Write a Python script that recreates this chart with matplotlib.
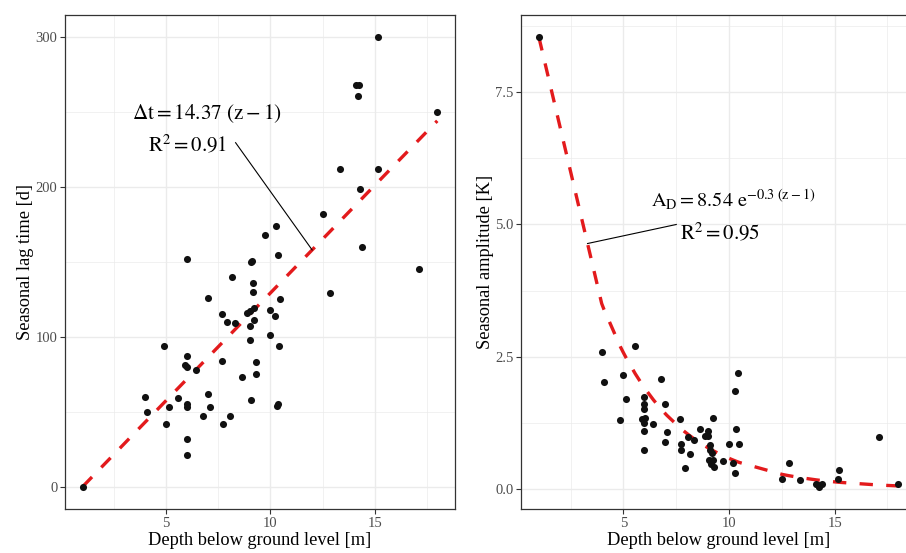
import numpy as np
import matplotlib
matplotlib.use("Agg")
import matplotlib.pyplot as plt
from matplotlib.ticker import MultipleLocator, FixedLocator

plt.rcParams['font.family'] = ['Liberation Serif', 'DejaVu Serif']
plt.rcParams['mathtext.fontset'] = 'stix'

# seasonal lag time vs depth
lag_depth = [1.0, 4.0, 4.09, 4.9, 5.0, 5.14, 5.56, 5.92, 6.0, 6.0, 6.0, 6.0, 6.0, 6.0,
             6.02, 6.43, 6.75, 7.0, 7.0, 7.09, 7.66, 7.7, 7.74, 7.9, 8.07, 8.17, 8.3,
             8.63, 8.86, 9.0, 9.0, 9.0, 9.05, 9.06, 9.12, 9.16, 9.16, 9.2, 9.2, 9.29,
             9.33, 9.75, 10.0, 10.0, 10.2, 10.27, 10.3, 10.34, 10.35, 10.4, 10.48,
             12.5, 12.85, 13.35, 14.1, 14.19, 14.25, 14.29, 14.4, 15.15, 15.18, 17.1, 18.0]
lag_days = [0, 60, 50, 94, 42, 53, 59, 81, 87, 152, 55, 53, 32, 21,
            80, 78, 47, 126, 62, 53, 84, 115, 42, 110, 47, 140, 109,
            73, 116, 117, 107, 98, 150, 58, 151, 136, 130, 119, 111, 83,
            75, 168, 118, 101, 114, 174, 54, 155, 55, 94, 125,
            182, 129, 212, 268, 261, 268, 199, 160, 300, 212, 145, 250]

# seasonal amplitude vs depth
amp_depth = [1.0, 3.97, 5.56, 4.07, 4.99, 6.76, 5.13, 5.98, 5.98, 5.98, 6.99, 4.86,
             5.87, 6.02, 5.98, 6.42, 5.98, 5.98, 7.06, 6.99, 7.68, 8.07, 8.32, 7.72,
             7.72, 8.17, 7.9, 8.63, 9.0, 8.86, 9.0, 9.26, 9.08, 9.11, 9.2, 9.07, 9.22,
             9.15, 9.3, 9.73, 10.0, 10.33, 10.49, 10.19, 10.3, 10.29, 10.43, 12.82,
             12.5, 13.34, 14.13, 14.25, 14.42, 14.2, 15.19, 15.18, 17.1, 18.0]
amp_k = [8.54, 2.59, 2.70, 2.02, 2.15, 2.07, 1.69, 1.74, 1.60, 1.50, 1.60, 1.30,
         1.31, 1.33, 1.24, 1.23, 1.09, 0.74, 1.07, 0.89, 1.31, 0.98, 0.93, 0.84,
         0.74, 0.65, 0.40, 1.12, 1.10, 1.00, 1.00, 1.34, 0.82, 0.73, 0.67, 0.55, 0.54,
         0.47, 0.41, 0.52, 0.84, 1.12, 0.84, 0.48, 0.30, 1.84, 2.18, 0.49,
         0.19, 0.16, 0.09, 0.04, 0.09, 0.06, 0.35, 0.18, 0.98, 0.09]

lag_slope = 14.37
amp_a, amp_k_rate = 8.54, 0.3

GRID = '#EBEBEB'
BORDER = '#333333'
TICKTXT = '#4D4D4D'
RED = '#E31A1C'


def style_axes(ax, ymajor, yminor):
    ax.set_facecolor('white')
    ax.xaxis.set_major_locator(FixedLocator([5, 10, 15]))
    ax.xaxis.set_minor_locator(FixedLocator([2.5, 7.5, 12.5, 17.5]))
    ax.yaxis.set_major_locator(MultipleLocator(ymajor))
    ax.yaxis.set_minor_locator(MultipleLocator(yminor))
    ax.grid(which='major', color=GRID, lw=1.0, zorder=0)
    ax.grid(which='minor', color=GRID, lw=0.5, zorder=0)
    ax.set_axisbelow(True)
    for s in ax.spines.values():
        s.set_color(BORDER)
        s.set_linewidth(0.9)
    ax.tick_params(which='major', length=3.5, width=0.8, color=BORDER,
                   labelcolor=TICKTXT, labelsize=10.5, pad=2)
    ax.tick_params(which='minor', length=0)
    ax.set_xlim(0.15, 18.85)
    ax.set_xlabel('Depth below ground level [m]', fontsize=13.2, labelpad=1.5)


def pad_range(vals):
    lo, hi = min(vals), max(vals)
    e = 0.05 * (hi - lo)
    return lo - e, hi + e


fig = plt.figure(figsize=(9.06, 5.53), dpi=100)
W, H = 906, 553
ax1 = fig.add_axes([65 / W, (H - 509) / H, 390 / W, 494 / H])
ax2 = fig.add_axes([521 / W, (H - 509) / H, 395 / W, 494 / H])

# left: linear lag-time fit through (1, 0)
style_axes(ax1, 100, 50)
ax1.set_ylim(*pad_range(lag_days))
zl = np.array([min(lag_depth), max(lag_depth)])
ax1.plot(zl, lag_slope * (zl - 1), color=RED, lw=2.4, ls=(0, (4, 4)), zorder=2)
ax1.scatter(lag_depth, lag_days, s=26, color='#111111', zorder=3, linewidths=0)
ax1.set_ylabel('Seasonal lag time [d]', fontsize=13.2, labelpad=1)
ax1.text(6.98, 245.5, r'$\Delta\mathrm{t} = 14.37\ \left(\mathrm{z} - 1\right)$',
         fontsize=15.2, ha='center', va='baseline')
ax1.text(7.92, 224.3, r'$\mathrm{R}^2 = 0.91$', fontsize=15, ha='right', va='baseline')
ax1.plot([8.33, 12], [229.7, lag_slope * 11], color='black', lw=0.8, zorder=2)

# right: exponential amplitude decay, evaluated at the observed depths
style_axes(ax2, 2.5, 1.25)
ax2.yaxis.set_major_formatter(matplotlib.ticker.FormatStrFormatter('%.1f'))
ax2.set_ylim(*pad_range(amp_k))
zs = np.unique(amp_depth)
fit = amp_a * np.exp(-amp_k_rate * (zs - 1))
ax2.plot(zs, fit, color=RED, lw=2.4, ls=(0, (4, 4)), zorder=2)
ax2.scatter(amp_depth, amp_k, s=26, color='#111111', zorder=3, linewidths=0)
ax2.set_ylabel('Seasonal amplitude [K]', fontsize=13.2, labelpad=1)
ax2.text(6.30, 5.33, r'$\mathrm{A_D} = 8.54\ \mathrm{e}^{-0.3\ (\mathrm{z}-1)}$',
         fontsize=14.6, ha='left', va='baseline')
ax2.text(7.68, 4.72, r'$\mathrm{R}^2 = 0.95$', fontsize=15, ha='left', va='baseline')
ax2.plot([3.3, 7.5], [np.interp(3.3, zs, fit), 5.0], color='black', lw=0.8, zorder=2)

fig.savefig('out.png', dpi=100)
